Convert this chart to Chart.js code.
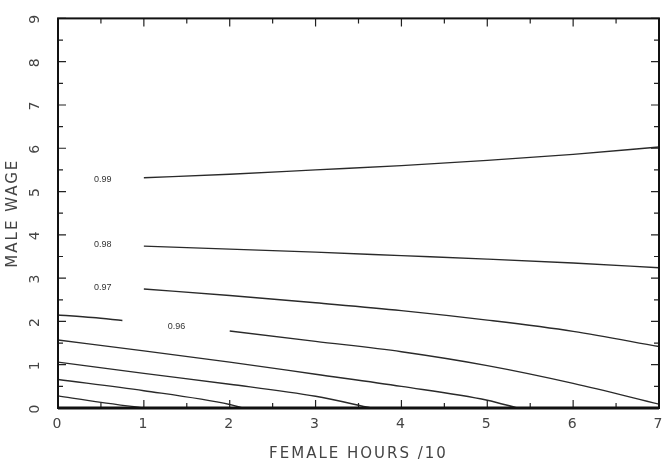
<!DOCTYPE html>
<html>
<head>
<meta charset="utf-8">
<script src="https://cdn.jsdelivr.net/npm/chart.js@4.4.1/dist/chart.umd.min.js"></script>
<style>
  body { margin: 0; background: #fff; }
  canvas { display: block; }
</style>
</head>
<body>
<canvas id="contourChart" width="668" height="463"></canvas>
<script>
// Curvas de nivel (x = horas mujer /10, y = salario hombre)
const c99X = [1, 2, 3, 4, 5, 6, 7];
const c99Y = [5.32, 5.40, 5.50, 5.60, 5.72, 5.86, 6.03];

const c98X = [1, 2, 3, 4, 5, 6, 7];
const c98Y = [3.74, 3.67, 3.60, 3.52, 3.44, 3.35, 3.24];

const c97X = [1, 2, 3, 4, 5, 6, 7];
const c97Y = [2.75, 2.60, 2.43, 2.25, 2.03, 1.77, 1.42];

const c96aX = [0, 0.4, 0.75];
const c96aY = [2.15, 2.09, 2.02];
const c96bX = [2, 3, 4, 5, 6, 7];
const c96bY = [1.78, 1.54, 1.30, 0.98, 0.57, 0.09];

const c95X = [0, 1, 2, 3, 4, 5, 5.35];
const c95Y = [1.57, 1.32, 1.06, 0.78, 0.50, 0.18, 0];

const c94X = [0, 1, 2, 3, 3.65];
const c94Y = [1.06, 0.80, 0.55, 0.27, 0];

const c93X = [0, 1, 2, 2.15];
const c93Y = [0.66, 0.40, 0.08, 0];

const c92X = [0, 0.5, 1.0];
const c92Y = [0.28, 0.13, 0];

// Etiquetas de las curvas
const levelLabels = ['0.99', '0.98', '0.97', '0.96'];
const labelX = [0.52, 0.52, 0.52, 1.38];
const labelY = [5.27, 3.77, 2.78, 1.89];

const xTicks = [0, 1, 2, 3, 4, 5, 6, 7];
const yTicks = [0, 1, 2, 3, 4, 5, 6, 7, 8, 9];

const FONT = '"DejaVu Sans", Verdana, sans-serif';

function toPoints(xs, ys) {
    return xs.map((x, i) => ({ x: x, y: ys[i] }));
}

const curves = [
    [c99X, c99Y], [c98X, c98Y], [c97X, c97Y], [c96aX, c96aY], [c96bX, c96bY],
    [c95X, c95Y], [c94X, c94Y], [c93X, c93Y], [c92X, c92Y]
];

const datasets = curves.map(c => ({
    data: toPoints(c[0], c[1]),
    showLine: true,
    borderColor: '#2a2a2a',
    borderWidth: 1.4,
    pointRadius: 0,
    cubicInterpolationMode: 'monotone',
    fill: false
}));

// Espaciado de letras como en el original
const spacingPlugin = {
    id: 'spacing',
    beforeInit(chart) { chart.ctx.letterSpacing = '2px'; },
    beforeDraw(chart) { chart.ctx.letterSpacing = '2px'; }
};

// Marcas interiores y etiquetas de nivel
const framePlugin = {
    id: 'frame',
    afterDatasetsDraw(chart) {
        const ctx = chart.ctx;
        const xs = chart.scales.x;
        const ys = chart.scales.y;
        const a = chart.chartArea;
        ctx.save();
        ctx.strokeStyle = '#222';
        ctx.lineWidth = 1.2;
        for (let v = 0; v <= 7.001; v += 0.5) {
            const px = xs.getPixelForValue(v);
            const len = Math.abs(v - Math.round(v)) < 0.01 ? 8 : 5;
            ctx.beginPath();
            ctx.moveTo(px, a.bottom); ctx.lineTo(px, a.bottom - len);
            ctx.moveTo(px, a.top); ctx.lineTo(px, a.top + len);
            ctx.stroke();
        }
        for (let v = 0; v <= 9.001; v += 0.5) {
            const py = ys.getPixelForValue(v);
            const len = Math.abs(v - Math.round(v)) < 0.01 ? 8 : 5;
            ctx.beginPath();
            ctx.moveTo(a.left, py); ctx.lineTo(a.left + len, py);
            ctx.moveTo(a.right, py); ctx.lineTo(a.right - len, py);
            ctx.stroke();
        }
        // Borde
        ctx.lineWidth = 2;
        ctx.strokeStyle = '#111';
        ctx.strokeRect(a.left, a.top, a.right - a.left, a.bottom - a.top);
        ctx.lineWidth = 3;
        ctx.beginPath();
        ctx.moveTo(a.left, a.bottom); ctx.lineTo(a.right, a.bottom);
        ctx.stroke();

        ctx.letterSpacing = '0px';
        ctx.fillStyle = '#333';
        ctx.font = '9px "Liberation Sans", Arial, sans-serif';
        ctx.textAlign = 'center';
        ctx.textBaseline = 'middle';
        levelLabels.forEach((t, i) => {
            ctx.fillText(t, xs.getPixelForValue(labelX[i]), ys.getPixelForValue(labelY[i]));
        });
        ctx.restore();
    }
};

const ctx = document.getElementById('contourChart').getContext('2d');
const contourChart = new Chart(ctx, {
    type: 'scatter',
    data: { datasets: datasets },
    options: {
        responsive: false,
        animation: false,
        layout: { padding: { top: 14, right: 9, left: 0, bottom: 0 } },
        plugins: {
            legend: { display: false },
            tooltip: { enabled: false }
        },
        scales: {
            x: {
                type: 'linear',
                min: 0,
                max: 7,
                afterBuildTicks: s => { s.ticks = xTicks.map(v => ({ value: v })); },
                afterFit: s => { s.height = 55; },
                grid: { display: false },
                border: { display: false },
                ticks: {
                    color: '#444',
                    font: { family: FONT, size: 14 },
                    padding: 0
                },
                title: {
                    display: true,
                    text: 'FEMALE HOURS /10',
                    color: '#444',
                    font: { family: FONT, size: 15 },
                    padding: { top: 10, bottom: 0 }
                }
            },
            y: {
                type: 'linear',
                min: 0,
                max: 9,
                afterBuildTicks: s => { s.ticks = yTicks.map(v => ({ value: v })); },
                afterFit: s => { s.width = 58; },
                grid: { display: false },
                border: { display: false },
                ticks: {
                    color: '#444',
                    font: { family: FONT, size: 14 },
                    minRotation: 90,
                    maxRotation: 90,
                    crossAlign: 'center',
                    padding: 10
                },
                title: {
                    display: true,
                    text: 'MALE WAGE',
                    color: '#444',
                    font: { family: FONT, size: 15 },
                    padding: { top: 4, bottom: 4 }
                }
            }
        }
    },
    plugins: [spacingPlugin, framePlugin]
});
</script>
</body>
</html>
